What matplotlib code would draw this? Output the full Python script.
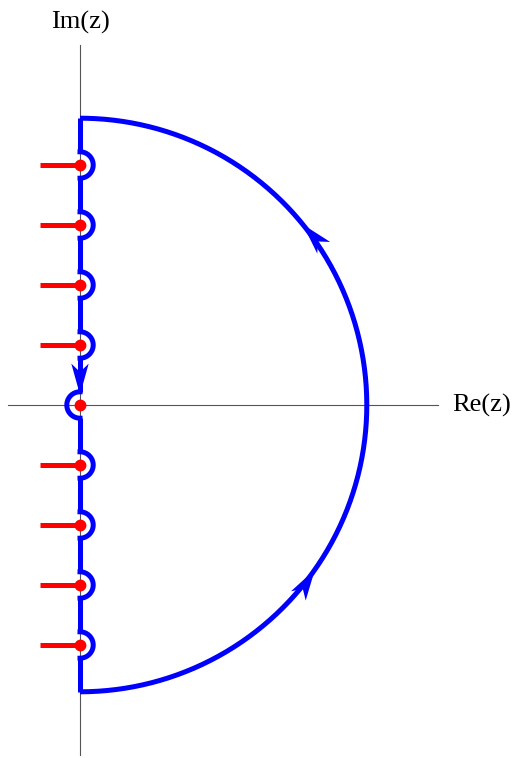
import matplotlib.pyplot as plt
from matplotlib.patches import Polygon
import numpy as np

# contour geometry (units: pole spacing)
poles = [4, 3, 2, 1, -1, -2, -3, -4]
R = 4.78          # big semicircle radius
r = 0.22          # indentation radius
cut_len = 0.67    # branch cut length to the left
arrow_tips_deg = [39, -35]   # arrow tip angles on the big arc
down_arrow_tip = 0.17        # tip of the arrow on the imaginary axis

blue = '#0000ff'
red = '#ff0000'
lw = 3.6

f = plt.figure(figsize=(5.13, 7.58), dpi=100)
ax = f.add_axes([0, 0, 1, 1])
ax.set_xlim(-80 / 60, (513 - 80) / 60)
ax.set_ylim(-(758 - 405) / 60, 405 / 60)
ax.axis('off')

# axes lines
ax.plot([-1.2, 5.967], [0, 0], color='#555555', lw=0.8, zorder=1)
ax.plot([0, 0], [-5.833, 6.0], color='#555555', lw=0.8, zorder=1)
ax.text(0, 6.38, 'Im(z)', ha='center', va='center', fontsize=19, family='Liberation Serif')
ax.text(6.2, 0, 'Re(z)', ha='left', va='center', fontsize=19, family='Liberation Serif')

# big semicircle
t = np.linspace(-np.pi / 2, np.pi / 2, 400)
ax.plot(R * np.cos(t), R * np.sin(t), color=blue, lw=lw, solid_capstyle='butt', zorder=3)

# imaginary axis with indentations
levels = sorted(poles + [0], reverse=True)
tops = [R] + [k - r for k in levels]
bots = [k + r for k in levels] + [-R]
for a, b in zip(tops, bots):
    ax.plot([0, 0], [a, b], color=blue, lw=lw, solid_capstyle='butt', zorder=3)
s = np.linspace(-np.pi / 2, np.pi / 2, 60)
for k in poles:
    ax.plot(r * np.cos(s), k + r * np.sin(s), color=blue, lw=lw, zorder=3)
ax.plot(-r * np.cos(s), r * np.sin(s), color=blue, lw=lw, zorder=3)

# branch cuts and poles
for k in poles:
    ax.plot([-cut_len, 0], [k, k], color=red, lw=lw, solid_capstyle='butt', zorder=2)
ax.plot([0] * (len(poles) + 1), poles + [0], 'o', color=red, ms=7.5, zorder=4)


def stealth(tip, d, L=0.52, w=0.145, notch=0.14):
    tip = np.asarray(tip, float)
    d = np.asarray(d, float) / np.hypot(*d)
    n = np.array([-d[1], d[0]])
    pts = [tip, tip - L * d + w * n, tip - (L - notch) * d, tip - L * d - w * n]
    ax.add_patch(Polygon(pts, closed=True, color=blue, lw=0, zorder=5))


for deg in arrow_tips_deg:
    th = np.radians(deg)
    stealth((R * np.cos(th), R * np.sin(th)), (-np.sin(th + 0.05), np.cos(th + 0.05)))
stealth((0, down_arrow_tip), (0, -1))

plt.savefig('out.png', dpi=100)
